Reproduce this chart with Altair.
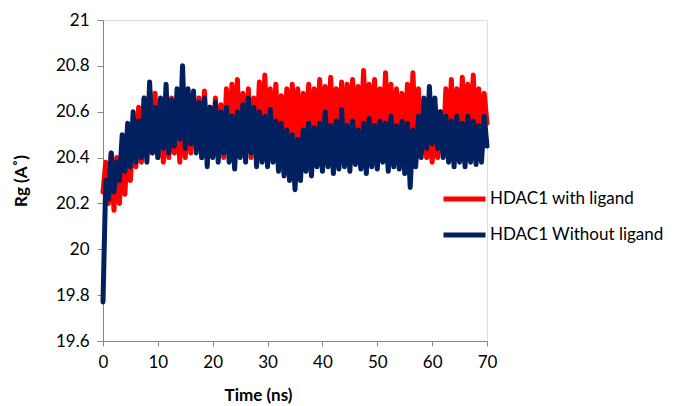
import altair as alt
import pandas as pd

# sampling step of the trajectories (ns)
step = 0.5

# Rg (Angstrom), one value every 0.5 ns from 0 to 70 ns
with_ligand = [
    20.25, 20.38, 20.20, 20.42, 20.17, 20.40, 20.20, 20.45, 20.24, 20.50,
    20.30, 20.55, 20.36, 20.62, 20.38, 20.66, 20.40, 20.70, 20.42, 20.68,
    20.40, 20.64, 20.38, 20.62, 20.40, 20.66, 20.42, 20.60, 20.38, 20.63,
    20.40, 20.65, 20.42, 20.68, 20.44, 20.66, 20.40, 20.69, 20.43, 20.62,
    20.45, 20.66, 20.42, 20.63, 20.40, 20.70, 20.43, 20.72, 20.45, 20.74,
    20.42, 20.68, 20.46, 20.70, 20.40, 20.66, 20.44, 20.73, 20.45, 20.76,
    20.46, 20.70, 20.44, 20.72, 20.48, 20.67, 20.45, 20.70, 20.46, 20.72,
    20.48, 20.70, 20.45, 20.68, 20.50, 20.72, 20.46, 20.70, 20.48, 20.74,
    20.50, 20.71, 20.46, 20.75, 20.48, 20.70, 20.50, 20.73, 20.46, 20.72,
    20.50, 20.74, 20.48, 20.71, 20.50, 20.78, 20.47, 20.72, 20.50, 20.74,
    20.46, 20.70, 20.50, 20.77, 20.48, 20.72, 20.46, 20.70, 20.48, 20.68,
    20.45, 20.72, 20.48, 20.77, 20.44, 20.70, 20.42, 20.60, 20.40, 20.56,
    20.38, 20.52, 20.40, 20.60, 20.42, 20.70, 20.46, 20.74, 20.48, 20.70,
    20.46, 20.75, 20.50, 20.72, 20.48, 20.76, 20.46, 20.70, 20.48, 20.68,
    20.55,
]

without_ligand = [
    19.77, 20.30, 20.22, 20.42, 20.25, 20.38, 20.30, 20.50, 20.34, 20.55,
    20.36, 20.60, 20.38, 20.56, 20.40, 20.66, 20.38, 20.73, 20.42, 20.62,
    20.40, 20.66, 20.44, 20.72, 20.42, 20.65, 20.45, 20.70, 20.48, 20.80,
    20.44, 20.70, 20.46, 20.69, 20.42, 20.64, 20.40, 20.66, 20.36, 20.62,
    20.40, 20.64, 20.38, 20.60, 20.42, 20.62, 20.38, 20.58, 20.35, 20.60,
    20.40, 20.63, 20.38, 20.66, 20.42, 20.62, 20.36, 20.60, 20.38, 20.58,
    20.36, 20.61, 20.38, 20.56, 20.34, 20.55, 20.32, 20.52, 20.30, 20.50,
    20.26, 20.48, 20.30, 20.52, 20.34, 20.55, 20.32, 20.53, 20.36, 20.55,
    20.34, 20.60, 20.36, 20.54, 20.33, 20.56, 20.35, 20.61, 20.36, 20.54,
    20.34, 20.56, 20.37, 20.52, 20.35, 20.55, 20.33, 20.57, 20.36, 20.54,
    20.35, 20.56, 20.38, 20.55, 20.34, 20.58, 20.36, 20.54, 20.35, 20.56,
    20.33, 20.55, 20.27, 20.52, 20.36, 20.58, 20.40, 20.66, 20.44, 20.71,
    20.46, 20.66, 20.44, 20.60, 20.40, 20.58, 20.38, 20.56, 20.36, 20.58,
    20.38, 20.55, 20.36, 20.58, 20.38, 20.56, 20.37, 20.54, 20.38, 20.58,
    20.45,
]

series_names = ["HDAC1 with ligand", "HDAC1 Without ligand"]
series_colors = ["#FF0000", "#002060"]
x_ticks = [0, 10, 20, 30, 40, 50, 60, 70]
y_ticks = [19.6, 19.8, 20.0, 20.2, 20.4, 20.6, 20.8, 21.0]

rows = []
for name, vals in zip(series_names, [with_ligand, without_ligand]):
    for i, v in enumerate(vals):
        rows.append({"time": round(i * step, 2), "rg": v, "series": name})
df = pd.DataFrame(rows)

FONT = "Lato"
AXIS_GREY = "#868686"

x_enc = alt.X(
    "time:Q",
    scale=alt.Scale(domain=[0, 70], nice=False),
    axis=alt.Axis(
        values=x_ticks, title="Time (ns)", grid=False, format="d",
        domainColor=AXIS_GREY, tickColor=AXIS_GREY, tickSize=5,
        labelFont=FONT, labelFontSize=17, labelColor="#000000", labelPadding=8,
        labelFlush=False, labelOverlap=False,
        titleFont=FONT, titleFontSize=17, titleFontWeight="bold", titleColor="#000000",
        titleX=155, titleY=54, titleBaseline="middle", titleAlign="center",
    ),
)
y_enc = alt.Y(
    "rg:Q",
    scale=alt.Scale(domain=[19.6, 21.0], nice=False, zero=False),
    axis=alt.Axis(
        values=y_ticks, title="Rg (A˚)", grid=False, format=".1~f",
        domainColor=AXIS_GREY, tickColor=AXIS_GREY, tickSize=6,
        labelFont=FONT, labelFontSize=17, labelColor="#000000", labelPadding=8,
        labelFlush=False, labelOverlap=False,
        titleFont=FONT, titleFontSize=17, titleFontWeight="bold", titleColor="#000000",
        titlePadding=25,
    ),
)
color_enc = alt.Color(
    "series:N",
    scale=alt.Scale(domain=series_names, range=series_colors),
    legend=alt.Legend(
        title=None, orient="none", legendX=338, legendY=169, padding=0,
        symbolType="stroke", symbolStrokeWidth=5, symbolSize=1764,
        clipHeight=20, rowPadding=16, labelOffset=2, labelLimit=0,
        labelFont=FONT, labelFontSize=17, labelColor="#000000",
    ),
)

layers = []
for name in series_names:
    layers.append(
        alt.Chart(df)
        .transform_filter(alt.datum.series == name)
        .mark_line(strokeWidth=5, strokeJoin="round", strokeCap="round")
        .encode(x=x_enc, y=y_enc, color=color_enc, order="time:Q")
    )

chart = (
    alt.layer(*layers)
    .properties(
        width=384, height=321,
        autosize=alt.AutoSizeParams(type="none"),
        padding={"left": 95, "top": 12, "right": 178, "bottom": 66},
    )
    .configure_view(stroke=None)
    .configure(background="white")
)

chart.save("out.html", embed_options={"renderer": "svg", "actions": False})
